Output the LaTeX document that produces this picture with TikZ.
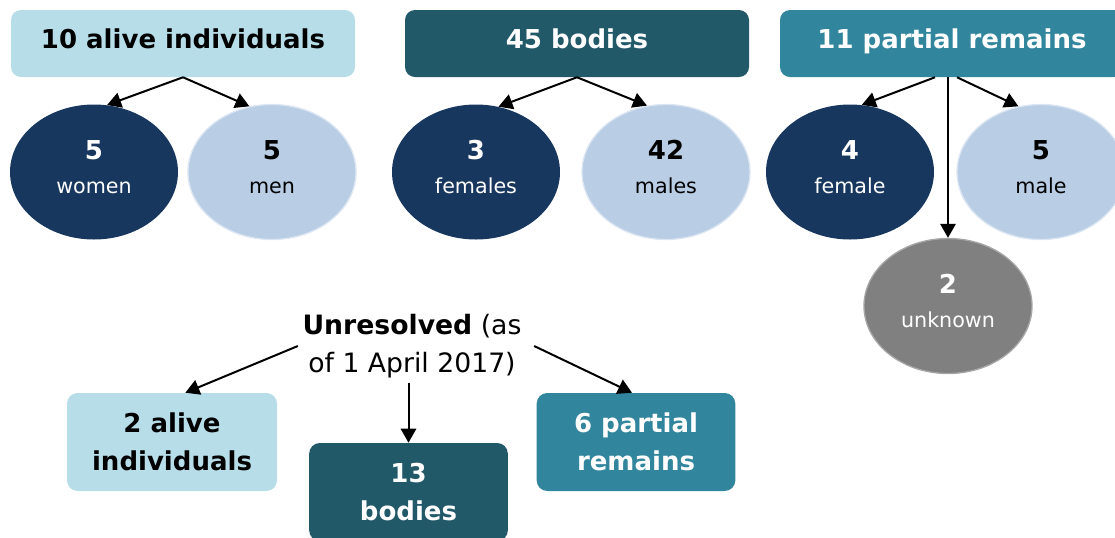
\documentclass[tikz,border=0pt]{standalone}
\usepackage{fontspec}
\setmainfont{DejaVu Sans}
\usepackage{tikz}
\usetikzlibrary{shapes,arrows,arrows.meta,positioning}

\definecolor{lightbox}{HTML}{B7DEE8}
\definecolor{darkbox}{HTML}{215968}
\definecolor{midbox}{HTML}{31859C}
\definecolor{navy}{HTML}{17375E}
\definecolor{paleblue}{HTML}{B9CDE5}
\definecolor{paleedge}{HTML}{DCE6F2}
\definecolor{greyfill}{HTML}{808080}
\definecolor{greyedge}{HTML}{A6A6A6}

\newcommand\bignum[1]{{\fontsize{19.5}{25}\selectfont\bfseries #1}}

\begin{document}
\begin{tikzpicture}[x=0.75pt,y=-0.75pt,->,>={Triangle[length=10.5pt,width=11.5pt]},
	head node/.style={rounded corners=7.5pt, minimum width=258pt, minimum height=50.25pt, inner sep=0pt, text height=14.8pt, text depth=7.25pt, font=\fontsize{19.5}{25}\selectfont\bfseries},
	main node/.style={ellipse, minimum width=126pt, minimum height=101.25pt, inner sep=0pt, align=center, text depth=7.5pt, font=\fontsize{15.5}{25}\selectfont},
	sub node/.style={rounded corners=8pt, minimum width=149pt, minimum height=73.5pt, inner sep=0pt, align=center, font=\fontsize{19.5}{28.5}\selectfont\bfseries}]
			\useasboundingbox (0,0) rectangle (1115,537);
			
			\node[head node, fill=lightbox] (1) at (183,43.5) {10 alive individuals};
			\node[head node, fill=darkbox, text=white] (2) at (577,43.5) {45 bodies};
			\node[head node, fill=midbox, text=white] (3) at (952,43.5) {11 partial remains};
			
			\node[main node, fill=navy, text=white] (4) at (94,172) {\bignum{5}\\women};
			\node[main node, fill=paleblue, draw=paleedge, line width=1pt] (5) at (272,172) {\bignum{5}\\men};
			\node[main node, fill=navy, text=white] (6) at (476,172) {\bignum{3}\\females};
			\node[main node, fill=paleblue, draw=paleedge, line width=1pt] (7) at (666,172) {\bignum{42}\\males};
			\node[main node, fill=navy, text=white] (8) at (850,172) {\bignum{4}\\female};
			\node[main node, fill=paleblue, draw=paleedge, line width=1pt] (9) at (1041,172) {\bignum{5}\\male};
			\node[main node, fill=greyfill, draw=greyedge, line width=1pt, text=white] (10) at (948,306) {\bignum{2}\\unknown};
			
			\node[align=center, font=\fontsize{20}{28.5}\selectfont] (11) at (412,346) {\textbf{Unresolved} (as\\of 1 April 2017)};
			\node[sub node, fill=lightbox, minimum width=157.5pt] (12) at (172,442) {2 alive\\individuals};
			\node[sub node, fill=darkbox, text=white] (13) at (408.5,492) {13\\bodies};
			\node[sub node, fill=midbox, text=white] (14) at (636,442) {6 partial\\remains};
			
			\path[line width=1.5pt]
			(1.south) edge (4.79)
			(1.south) edge (5.109)
			
			(2.south) edge (6.71)
			(2.south) edge (7.106)
			
			([xshift=-12.75pt]3.south) edge (8.80)
			([xshift=3.75pt]3.south) edge (9.109)
			(3.south -| 10.north) edge (10.north)
			
			(11.west) edge ([xshift=10pt]12.north)
			(11.south -| 13.north) edge (13.north)
			([xshift=6pt]11.east) edge ([xshift=-3pt]14.north);
			
			
			\end{tikzpicture}
\end{document}
